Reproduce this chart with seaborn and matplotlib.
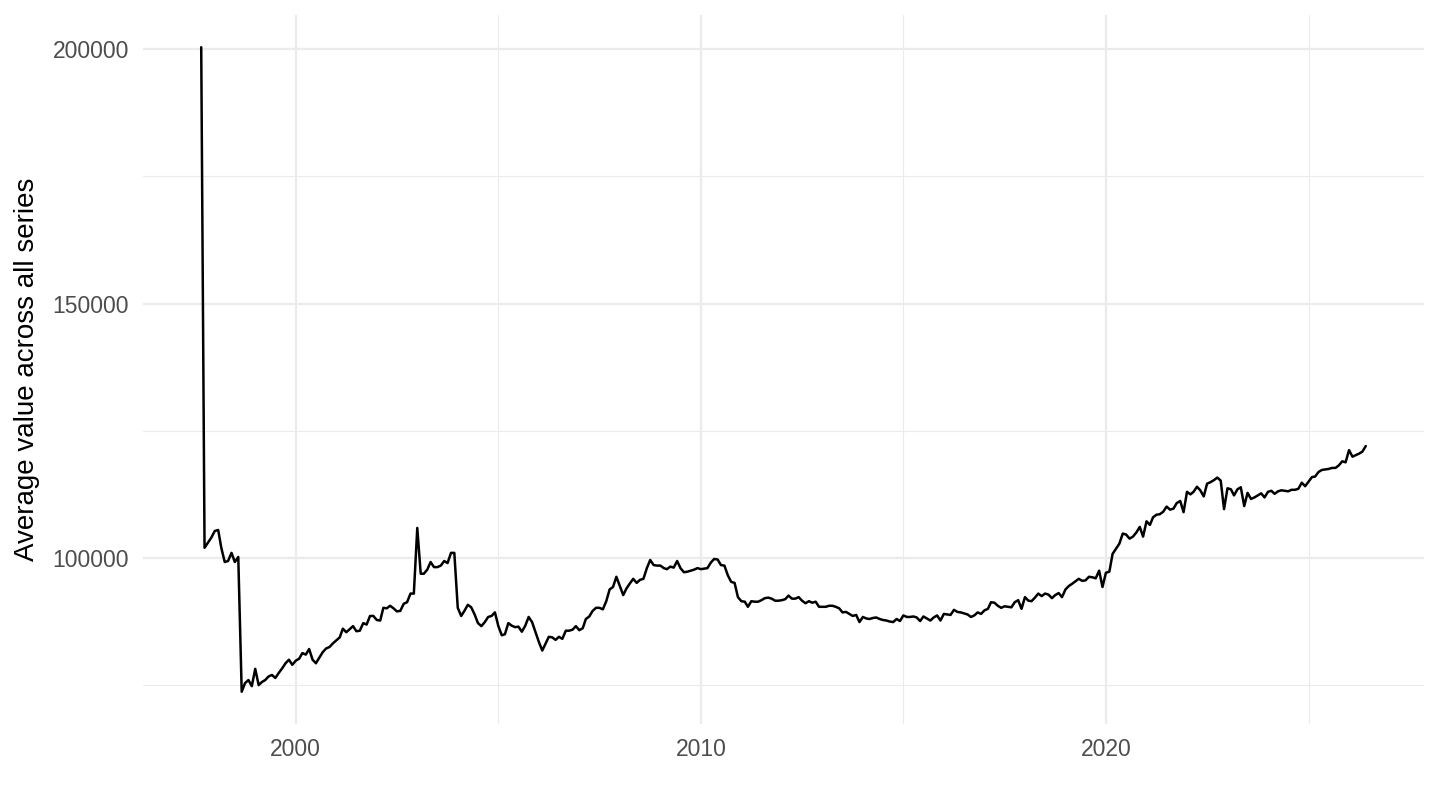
import pandas as pd
import numpy as np
import seaborn as sns
import matplotlib
matplotlib.use("Agg")
import matplotlib.pyplot as plt
import matplotlib.dates as mdates
from matplotlib.ticker import MultipleLocator, FuncFormatter

# Monthly averages (series starts Sep 1997)
y1997 = [200400, 102000, 103000, 104000]
y1998 = [105300, 105500, 102000, 99200, 99400, 101000, 99200, 100200, 73700, 75400, 76000, 74800]
y1999 = [78200, 75000, 75600, 76000, 76700, 77000, 76400, 77400, 78300, 79300, 80000, 79000]
y2000 = [79800, 80200, 81300, 81000, 82100, 80000, 79300, 80400, 81500, 82200, 82500, 83200]
y2001 = [83800, 84400, 86100, 85400, 86000, 86600, 85600, 85700, 87200, 86900, 88600, 88600]
y2002 = [87800, 87700, 90200, 90100, 90600, 90100, 89500, 89600, 91000, 91300, 93000, 93000]
y2003 = [105900, 96900, 96900, 97700, 99200, 98200, 98200, 98500, 99400, 99000, 101000, 101000]
y2004 = [90200, 88600, 89600, 90800, 90300, 88900, 87200, 86600, 87400, 88400, 88600, 89300]
y2005 = [86600, 84800, 85000, 87200, 86700, 86400, 86500, 85500, 86700, 88400, 87400, 85500]
y2006 = [83500, 81800, 83100, 84500, 84400, 83900, 84500, 84100, 85700, 85700, 85900, 86600]
y2007 = [85800, 86200, 88000, 88500, 89600, 90200, 90200, 89900, 91500, 93800, 94300, 96300]
y2008 = [94500, 92700, 94000, 95000, 95900, 95100, 95700, 95900, 98000, 99600, 98600, 98500]
y2009 = [98500, 98000, 97800, 98300, 98100, 99400, 98000, 97200, 97300, 97500, 97700, 98000]
y2010 = [97800, 97900, 98000, 99100, 99800, 99700, 98600, 98500, 96600, 95300, 95100, 92300]
y2011 = [91500, 91400, 90400, 91500, 91400, 91400, 91700, 92100, 92200, 92000, 91600, 91600]
y2012 = [91700, 91900, 92600, 92000, 92000, 92300, 91600, 91100, 91500, 91200, 91400, 90400]
y2013 = [90400, 90400, 90600, 90600, 90400, 90100, 89300, 89400, 89000, 88600, 88800, 87400]
y2014 = [88400, 88100, 88000, 88200, 88300, 88000, 87800, 87700, 87500, 87400, 88000, 87600]
y2015 = [88700, 88400, 88400, 88500, 88300, 87600, 88500, 88100, 87700, 88300, 88700, 87700]
y2016 = [89000, 88900, 88800, 89800, 89400, 89300, 89100, 88900, 88400, 88700, 89300, 89000]
y2017 = [89700, 90000, 91300, 91200, 90600, 90200, 90500, 90400, 90300, 91300, 91700, 90000]
y2018 = [92300, 91600, 91500, 92200, 93000, 92500, 93000, 92800, 92100, 92700, 93100, 92300]
y2019 = [93800, 94500, 94900, 95400, 95900, 95500, 95600, 96300, 96200, 96000, 97500, 94300]
y2020 = [97100, 97300, 100800, 101800, 102800, 104800, 104600, 103800, 104200, 105000, 106100, 104200]
y2021 = [107200, 106500, 108000, 108500, 108600, 109100, 110100, 109500, 109700, 110800, 111200, 109000]
y2022 = [113000, 112500, 113000, 114000, 113300, 112100, 114600, 114900, 115300, 115800, 115200, 109600]
y2023 = [113700, 113500, 112300, 113500, 113900, 110200, 112800, 111600, 111900, 112300, 112700, 111900]
y2024 = [113000, 113200, 112600, 113100, 113300, 113200, 113100, 113400, 113400, 113600, 114800, 114100]
y2025 = [115000, 115900, 116000, 116900, 117300, 117400, 117500, 117700, 117700, 118200, 119000, 118800]
y2026 = [121200, 119900, 120200, 120500, 120900, 122000]

values = (y1997 + y1998 + y1999 + y2000 + y2001 + y2002 + y2003 + y2004 + y2005
          + y2006 + y2007 + y2008 + y2009 + y2010 + y2011 + y2012 + y2013 + y2014
          + y2015 + y2016 + y2017 + y2018 + y2019 + y2020 + y2021 + y2022 + y2023
          + y2024 + y2025 + y2026)

df = pd.DataFrame({
    'date': pd.date_range('1997-09-01', periods=len(values), freq='MS'),
    'value': values,
})

sns.set_theme(style="white")
plt.rcParams['font.family'] = ['Liberation Sans', 'DejaVu Sans']

fig = plt.figure(figsize=(14.4, 8.1), dpi=100)
ax = fig.add_axes([0.0993, 0.1062, 0.8896, 0.8753])

sns.lineplot(data=df, x='date', y='value', color='black', linewidth=1.8, ax=ax)

# ggplot-like 5% expansion
x0 = mdates.date2num(df['date'].min())
x1 = mdates.date2num(df['date'].max())
ax.set_xlim(x0 - 0.05 * (x1 - x0), x1 + 0.05 * (x1 - x0))
ymin, ymax = df['value'].min(), df['value'].max()
ax.set_ylim(ymin - 0.05 * (ymax - ymin), ymax + 0.05 * (ymax - ymin))

ax.xaxis.set_major_locator(mdates.YearLocator(10))
ax.xaxis.set_minor_locator(mdates.YearLocator(5))
ax.xaxis.set_major_formatter(mdates.DateFormatter('%Y'))
ax.yaxis.set_major_locator(MultipleLocator(50000))
ax.yaxis.set_minor_locator(MultipleLocator(25000))
ax.yaxis.set_major_formatter(FuncFormatter(lambda v, p: f'{v:.0f}'))

ax.grid(which='major', color='#EBEBEB', linewidth=1.6)
ax.grid(which='minor', color='#EBEBEB', linewidth=0.8)
ax.set_axisbelow(True)
for s in ax.spines.values():
    s.set_visible(False)

ax.tick_params(which='both', length=0, labelsize=16.5, labelcolor='#4D4D4D')
ax.tick_params(axis='y', pad=10)
ax.tick_params(axis='x', pad=10)

ax.set_xlabel('')
ax.set_ylabel('Average value across all series', fontsize=20, color='black', labelpad=9)

fig.savefig('out.png', dpi=100)
